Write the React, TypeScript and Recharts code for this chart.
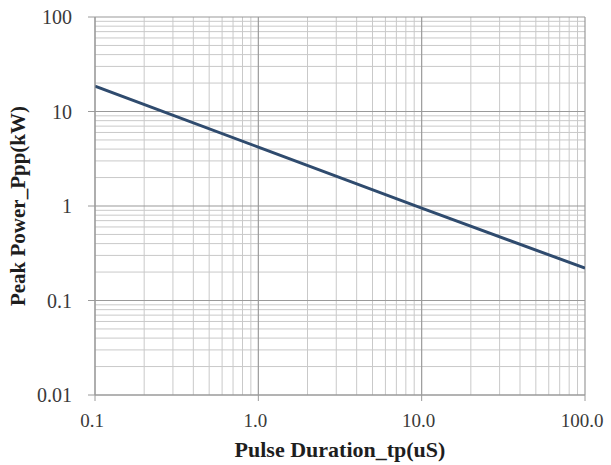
import { CartesianGrid, Line, LineChart, ReferenceLine, XAxis, YAxis } from "recharts";

const pulseDuration = [0.1, 1, 10, 100];
const peakPower = [18.5, 4.2, 0.95, 0.22];

const xTicks = [0.1, 1, 10, 100];
const xTickLabels = ["0.1", "1.0", "10.0", "100.0"];
const yTicks = [0.01, 0.1, 1, 10, 100];
const yTickLabels = ["0.01", "0.1", "1", "10", "100"];

const minorSteps = [2, 3, 4, 5, 6, 7, 8, 9];

const data = pulseDuration.map((t, i) => ({ t, p: peakPower[i] }));

function minorsFor(decades: number[]) {
  const out: number[] = [];
  decades.slice(0, -1).forEach((d) => minorSteps.forEach((m) => out.push(+(d * m).toPrecision(3))));
  return out;
}

const font = "Liberation Serif, DejaVu Serif, serif";

export default function App() {
  const xMinor = minorsFor(xTicks);
  const yMinor = minorsFor(yTicks);
  return (
    <div style={{ position: "absolute", left: 0, top: 0, background: "#fff", fontFamily: font }}>
      <LineChart
        width={611}
        height={465}
        data={data}
        margin={{ top: 17, right: 26, bottom: 0, left: 0 }}
        style={{ fontFamily: font }}
      >
        <CartesianGrid horizontal={false} vertical={false} />
        {xMinor.map((v) => (
          <ReferenceLine key={"xm" + v} x={v} stroke="#c9c9c9" strokeWidth={1} />
        ))}
        {yMinor.map((v) => (
          <ReferenceLine key={"ym" + v} y={v} stroke="#c9c9c9" strokeWidth={1} />
        ))}
        {xTicks.map((v) => (
          <ReferenceLine key={"xM" + v} x={v} stroke="#9a9a9a" strokeWidth={1.2} />
        ))}
        {yTicks.map((v) => (
          <ReferenceLine key={"yM" + v} y={v} stroke="#9a9a9a" strokeWidth={1.2} />
        ))}
        <XAxis
          dataKey="t"
          type="number"
          scale="log"
          domain={[0.1, 100]}
          ticks={xTicks}
          allowDataOverflow
          height={70}
          tickFormatter={(v: number) => xTickLabels[xTicks.indexOf(v)] ?? ""}
          tick={{ fill: "#3a3a3a", fontSize: 19, fontFamily: font, dx: -3 }}
          tickSize={6}
          tickMargin={13}
          stroke="#9a9a9a"
          label={{
            value: "Pulse Duration_tp(uS)",
            position: "insideBottom",
            offset: 8,
            fill: "#1e1e1e",
            fontSize: 22,
            fontWeight: "bold",
            fontFamily: font,
          }}
        />
        <YAxis
          type="number"
          scale="log"
          domain={[0.01, 100]}
          ticks={yTicks}
          allowDataOverflow
          width={95}
          tickFormatter={(v: number) => yTickLabels[yTicks.indexOf(v)] ?? ""}
          tick={{ fill: "#3a3a3a", fontSize: 20, fontFamily: font }}
          tickSize={7}
          tickMargin={16}
          stroke="#9a9a9a"
          label={{
            value: "Peak  Power_Ppp(kW)",
            angle: -90,
            position: "insideLeft",
            offset: 12,
            dy: 0,
            dx: 6,
            style: { textAnchor: "middle" },
            fill: "#1e1e1e",
            fontSize: 21,
            fontWeight: "bold",
            fontFamily: font,
          }}
        />
        <Line
          type="linear"
          dataKey="p"
          stroke="#2f4b6e"
          strokeWidth={3}
          dot={false}
          isAnimationActive={false}
        />
      </LineChart>
    </div>
  );
}
